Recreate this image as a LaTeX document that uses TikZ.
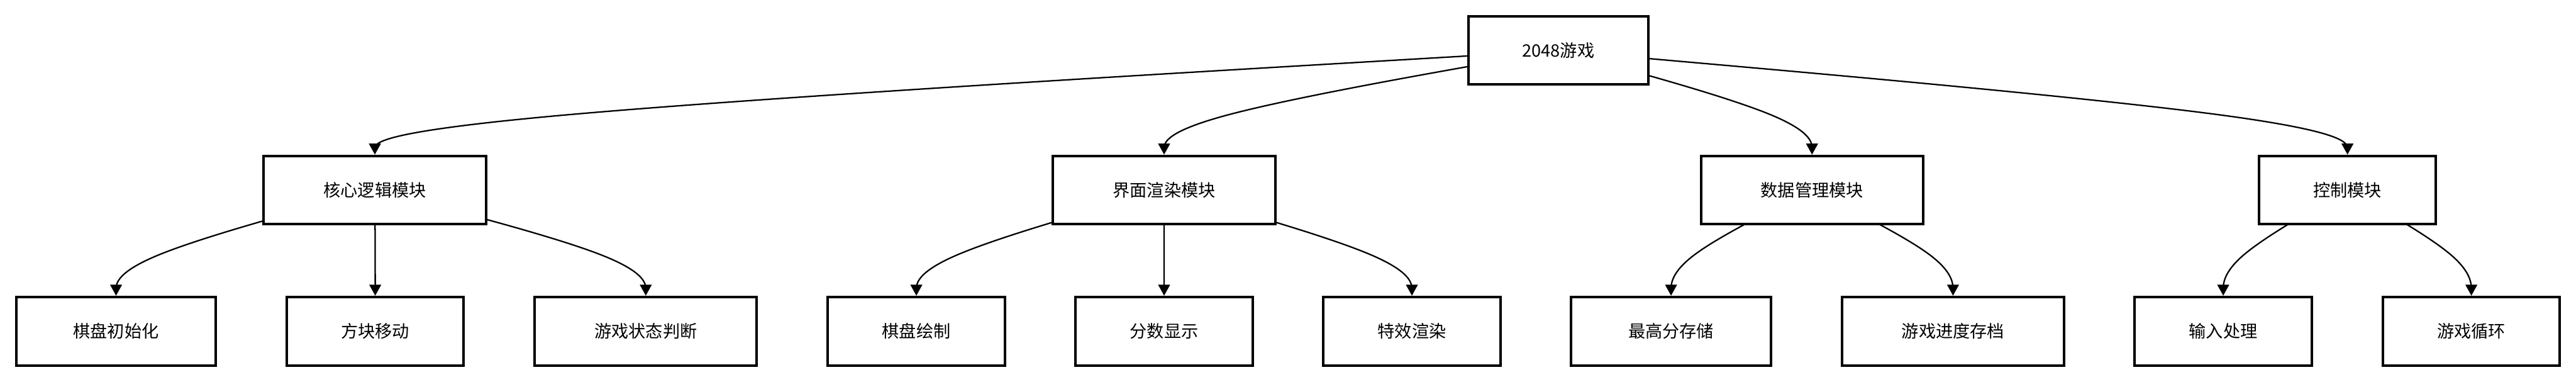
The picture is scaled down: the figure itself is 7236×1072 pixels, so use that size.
\documentclass[tikz,border=0pt]{standalone}
\usepackage{fontspec}
\setmainfont{Noto Sans CJK SC}
\usetikzlibrary{arrows.meta,calc,backgrounds}
% basis-spline edge: #1 parent, #2 child, #3 upward offset of the middle point (px)
\newcommand{\mmedge}[3]{%
  \coordinate (q0) at (#1.center);
  \coordinate (q2) at (#2.north);
  \coordinate (q1) at ($(q2)+(0,-#3)$);
  \draw[edge] (q0) -- ($0.833333*(q0)+0.166667*(q1)$)
    .. controls ($0.666667*(q0)+0.333333*(q1)$) and ($0.333333*(q0)+0.666667*(q1)$)
    .. ($0.166667*(q0)+0.666667*(q1)+0.166667*(q2)$)
    .. controls ($0.666667*(q1)+0.333333*(q2)$) and ($0.333333*(q1)+0.666667*(q2)$)
    .. ($0.166667*(q1)+0.833333*(q2)$) -- (q2);
}
\begin{document}
\begin{tikzpicture}[x=0.1pt,y=-0.1pt,
  box/.style={draw=black,line width=0.7pt,fill=white,rectangle,inner sep=0pt,
    minimum height=19.2pt,font=\fontsize{4.8pt}{5.8pt}\selectfont},
  w4/.style={box,minimum width=49.7pt},
  w5/.style={box,minimum width=56.1pt},
  w6/.style={box,minimum width=62.4pt},
  edge/.style={draw=black,line width=0.4pt,-{Triangle[length=3.1pt,width=3.3pt]}}]
\useasboundingbox (0,0) rectangle (7236,1072);

\node[box,minimum width=50.4pt,minimum height=19.1pt] (top) at (4377.5,142) {2048游戏};

\node[w6] (core) at (1053,533.5) {核心逻辑模块};
\node[w6] (ui)   at (3270,533.5) {界面渲染模块};
\node[w6] (data) at (5090,533.5) {数据管理模块};
\node[w4] (ctrl) at (6594,533.5) {控制模块};

\node[w5] (l1) at (326,929.5)  {棋盘初始化};
\node[w4] (l2) at (1054,929.5) {方块移动};
\node[w6] (l3) at (1814,929.5) {游戏状态判断};
\node[w4] (u1) at (2574,929.5) {棋盘绘制};
\node[w4] (u2) at (3270,929.5) {分数显示};
\node[w4] (u3) at (3966,929.5) {特效渲染};
\node[w5] (d1) at (4694,929.5) {最高分存储};
\node[w6] (d2) at (5486,929.5) {游戏进度存档};
\node[w4] (c1) at (6245,929.5) {输入处理};
\node[w4] (c2) at (6942,929.5) {游戏循环};

\begin{pgfonlayer}{background}
\fill[white] (0,0) rectangle (7236,1072);
\mmedge{top}{core}{96.5}
\mmedge{top}{ui}{96.5}
\mmedge{top}{data}{96.5}
\mmedge{top}{ctrl}{96.5}
\mmedge{core}{l1}{98.5}
\mmedge{core}{l2}{98.5}
\mmedge{core}{l3}{98.5}
\mmedge{ui}{u1}{98.5}
\mmedge{ui}{u2}{98.5}
\mmedge{ui}{u3}{98.5}
\mmedge{data}{d1}{98.5}
\mmedge{data}{d2}{98.5}
\mmedge{ctrl}{c1}{98.5}
\mmedge{ctrl}{c2}{98.5}
\end{pgfonlayer}
\end{tikzpicture}
\end{document}
